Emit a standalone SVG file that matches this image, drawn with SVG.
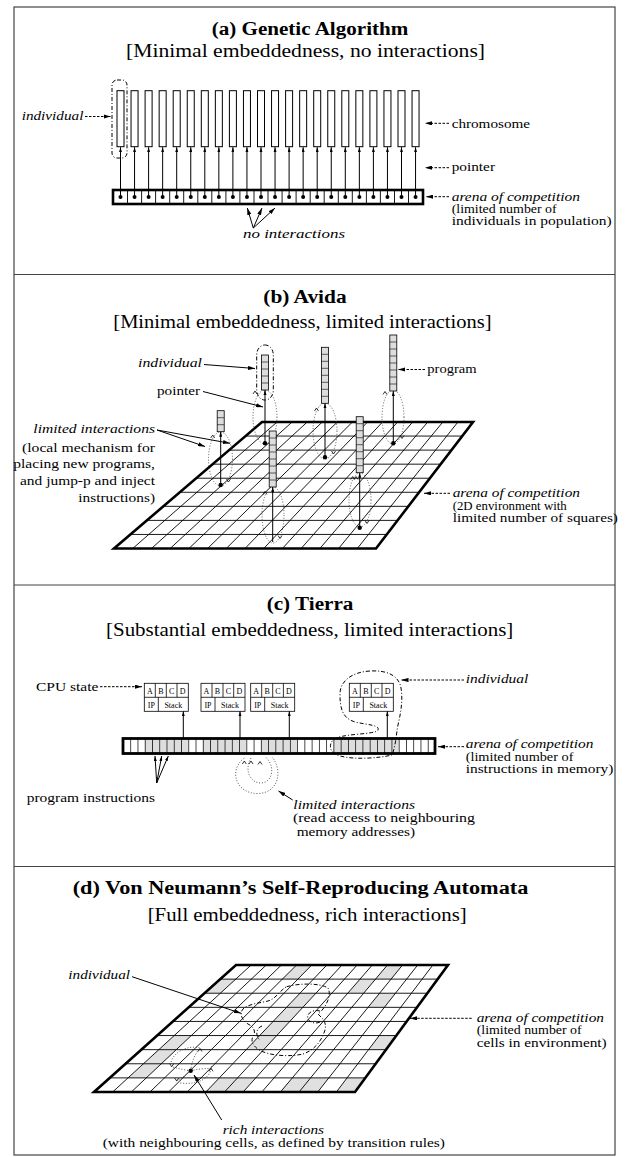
<svg xmlns="http://www.w3.org/2000/svg" width="625" height="1157" viewBox="0 0 625 1157" font-family="'Liberation Serif', 'Times New Roman', Times, 'DejaVu Serif', serif">
<defs>
<style>
text{font-family:'Liberation Serif','Times New Roman',Times,'Nimbus Roman','DejaVu Serif',serif}
.ti{font-weight:bold;font-size:18.5px}
.su{font-size:18.5px}
.lb{font-size:12.5px}
.it{font-style:italic}
.sm{font-size:8px}
.ln{stroke:#000;stroke-width:1;fill:none}
.dash{stroke:#000;stroke-width:1;fill:none;stroke-dasharray:2.5 1.5}
.dd{stroke:#000;stroke-width:1;fill:none;stroke-dasharray:4 2 1 2}
.dot{stroke:#444;stroke-width:0.9;fill:none;stroke-dasharray:1 1.8}
.grid{stroke:#000;stroke-width:0.9;fill:none}
.edge{stroke:#000;stroke-width:2.6;fill:none;stroke-linejoin:miter}
.chev{stroke:#000;stroke-width:0.8;fill:none}
</style>
<marker id="ah" viewBox="0 0 10 6" refX="10" refY="3" markerWidth="7" markerHeight="4.2" markerUnits="userSpaceOnUse" orient="auto"><path d="M0,0L10,3L0,6z" fill="#000"/></marker>
<marker id="ahs" viewBox="0 0 10 6" refX="10" refY="3" markerWidth="5" markerHeight="3.2" markerUnits="userSpaceOnUse" orient="auto"><path d="M0,0L10,3L0,6z" fill="#000"/></marker>
<g id="chr"><rect x="0" y="90.7" width="7" height="56" fill="#fff" stroke="#000" stroke-width="1"/><line x1="3.5" y1="197" x2="3.5" y2="147.2" stroke="#000" stroke-width="1" marker-end="url(#ahs)"/><circle cx="3.5" cy="197" r="2"/></g>
<g id="p8"><rect x="-3.5" y="0" width="7" height="56" fill="#ddd" stroke="#000" stroke-width=".8"/><path d="M-3.5,7h7M-3.5,14h7M-3.5,21h7M-3.5,28h7M-3.5,35h7M-3.5,42h7M-3.5,49h7" stroke="#000" stroke-width=".6"/></g>
<g id="p5"><rect x="-3.5" y="0" width="7" height="35" fill="#ddd" stroke="#000" stroke-width=".8"/><path d="M-3.5,7h7M-3.5,14h7M-3.5,21h7M-3.5,28h7" stroke="#000" stroke-width=".6"/></g>
<g id="p3"><rect x="-3.5" y="0" width="7" height="21" fill="#ddd" stroke="#000" stroke-width=".8"/><path d="M-3.5,7h7M-3.5,14h7" stroke="#000" stroke-width=".6"/></g>
<pattern id="mem" x="123" y="0" width="7.256" height="20" patternUnits="userSpaceOnUse"><line x1="0.4" y1="0" x2="0.4" y2="20" stroke="#000" stroke-width="0.8"/></pattern>
</defs>
<rect width="625" height="1157" fill="#fff"/>
<g id="frame" fill="none" stroke="#444" stroke-width="1.2">
<rect x="14" y="7" width="601" height="1148"/>
<line x1="14" y1="274.5" x2="615" y2="274.5"/>
<line x1="14" y1="585" x2="615" y2="585"/>
<line x1="14" y1="866.5" x2="615" y2="866.5"/>
</g>

<!-- ===== Panel (a) ===== -->
<g id="a-title">
<text class="ti" x="211.7" y="35" textLength="196.6" lengthAdjust="spacingAndGlyphs">(a) Genetic Algorithm</text>
<text class="su" x="126" y="57" textLength="359" lengthAdjust="spacingAndGlyphs">[Minimal embeddedness, no interactions]</text>
</g>
<g id="a-arena">
<rect x="113" y="190" width="310" height="14" fill="#fff" stroke="#000" stroke-width="2.6"/>
<path d="M127.5,190v14M141.6,190v14M155.6,190v14M169.7,190v14M183.7,190v14M197.8,190v14M211.8,190v14M225.9,190v14M239.9,190v14M254,190v14M268,190v14M282.1,190v14M296.1,190v14M310.2,190v14M324.2,190v14M338.3,190v14M352.3,190v14M366.4,190v14M380.4,190v14M394.5,190v14M408.5,190v14" stroke="#000" stroke-width="0.9"/>
</g>
<g id="a-chromosomes">
<use href="#chr" x="117"/><use href="#chr" x="131.05"/><use href="#chr" x="145.1"/><use href="#chr" x="159.15"/><use href="#chr" x="173.2"/><use href="#chr" x="187.25"/><use href="#chr" x="201.3"/><use href="#chr" x="215.35"/><use href="#chr" x="229.4"/><use href="#chr" x="243.45"/><use href="#chr" x="257.5"/><use href="#chr" x="271.55"/><use href="#chr" x="285.6"/><use href="#chr" x="299.65"/><use href="#chr" x="313.7"/><use href="#chr" x="327.75"/><use href="#chr" x="341.8"/><use href="#chr" x="355.85"/><use href="#chr" x="369.9"/><use href="#chr" x="383.95"/><use href="#chr" x="398"/><use href="#chr" x="412.05"/>
</g>
<g id="a-individual">
<rect x="112" y="80" width="15" height="78" rx="5" class="dd"/>
<text class="lb it" x="21.7" y="120" textLength="61.7" lengthAdjust="spacingAndGlyphs">individual</text>
</g>
<g id="a-labels">
<text class="lb" x="451.7" y="127.5" textLength="78.3" lengthAdjust="spacingAndGlyphs">chromosome</text>
<text class="lb" x="451.7" y="171" textLength="43.3" lengthAdjust="spacingAndGlyphs">pointer</text>
<text class="lb it" x="451.7" y="200.5" textLength="128.3" lengthAdjust="spacingAndGlyphs">arena of competition</text>
<text class="lb" x="451.7" y="212.8" textLength="105" lengthAdjust="spacingAndGlyphs">(limited number of</text>
<text class="lb" x="451.7" y="225.2" textLength="160" lengthAdjust="spacingAndGlyphs">individuals in population)</text>
<text class="lb it" x="243" y="238" textLength="102" lengthAdjust="spacingAndGlyphs">no interactions</text>
</g>
<g id="a-connectors">
<line x1="85" y1="116.5" x2="110.5" y2="116.5" class="dash" marker-end="url(#ah)"/>
<line x1="449" y1="123.3" x2="425" y2="123.3" class="dash" marker-end="url(#ah)"/>
<line x1="449" y1="167.7" x2="425" y2="167.7" class="dash" marker-end="url(#ah)"/>
<line x1="449" y1="196.7" x2="426" y2="196.7" class="dash" marker-end="url(#ah)"/>
<line x1="253.3" y1="228" x2="247.3" y2="208" class="ln" marker-end="url(#ah)"/>
<line x1="253.3" y1="228" x2="262" y2="208" class="ln" marker-end="url(#ah)"/>
<line x1="253.3" y1="228" x2="275" y2="208" class="ln" marker-end="url(#ah)"/>
</g>

<!-- ===== Panel (b) ===== -->
<g id="b-title">
<text class="ti" x="263.3" y="303" textLength="83.3" lengthAdjust="spacingAndGlyphs">(b) Avida</text>
<text class="su" x="113.3" y="327.7" textLength="378.3" lengthAdjust="spacingAndGlyphs">[Minimal embeddedness, limited interactions]</text>
</g>
<g id="b-arena">
<polygon points="262,422 473,422 376,548.5 114,548.5" fill="#fff"/>
<path class="grid" d="M245.56,436.06H462.22M229.11,450.11H451.44M212.67,464.17H440.67M196.22,478.22H429.89M179.78,492.28H419.11M163.33,506.33H408.33M146.89,520.39H397.56M130.44,534.44H386.78
M277.07,422L132.71,548.5M292.14,422L151.43,548.5M307.21,422L170.14,548.5M322.29,422L188.86,548.5M337.36,422L207.57,548.5M352.43,422L226.29,548.5M367.5,422L245,548.5M382.57,422L263.71,548.5M397.64,422L282.43,548.5M412.71,422L301.14,548.5M427.79,422L319.86,548.5M442.86,422L338.57,548.5M457.93,422L357.29,548.5"/>
<polygon points="262,422 473,422 376,548.5 114,548.5" class="edge"/>
</g>
<g id="b-loops">
<ellipse cx="265" cy="417" rx="12" ry="27" class="dot"/>
<ellipse cx="325" cy="431" rx="12" ry="28" class="dot"/>
<ellipse cx="393" cy="417" rx="11" ry="27" class="dot"/>
<ellipse cx="220.5" cy="459" rx="12" ry="27" class="dot"/>
<ellipse cx="273" cy="515" rx="11" ry="28" class="dot"/>
<ellipse cx="360" cy="500" rx="11" ry="27" class="dot"/>
<path class="chev" d="M253,394l2,-3l2,3M273,437l2,3l2,-3M314.5,411l2,-3l2,3M331.5,451l2,3l2,-3M383,394.5l2,-3l2,3M400,435.5l2,3l2,-3M210.7,438l2,-3l2,3M226.5,479l2,3l2,-3M263,494.5l2,-3l2,3M278,535.5l2,3l2,-3M350.7,479.5l2,-3l2,3M354,479.5l2,-3l2,3M365,520.5l2,3l2,-3"/>
</g>
<g id="b-programs">
<line x1="265" y1="443.3" x2="265" y2="390" class="ln" marker-end="url(#ahs)"/><circle cx="265" cy="443.3" r="2.2"/>
<line x1="325" y1="457.3" x2="325" y2="403.3" class="ln" marker-end="url(#ahs)"/><circle cx="325" cy="457.3" r="2.2"/>
<line x1="393.3" y1="443.3" x2="393.3" y2="391" class="ln" marker-end="url(#ahs)"/><circle cx="393.3" cy="443.3" r="2.2"/>
<line x1="220.7" y1="485" x2="220.7" y2="431.7" class="ln" marker-end="url(#ahs)"/><circle cx="220.7" cy="485" r="2.2"/>
<line x1="272.7" y1="542" x2="272.7" y2="487" class="ln" marker-end="url(#ahs)"/>
<line x1="359.7" y1="527.7" x2="359.7" y2="472.7" class="ln" marker-end="url(#ahs)"/><circle cx="359.7" cy="527.7" r="2.2"/>
<use href="#p5" x="265" y="355"/>
<use href="#p8" x="325" y="347.3"/>
<use href="#p8" x="393.3" y="335"/>
<use href="#p3" x="220.7" y="410.7"/>
<use href="#p8" x="272.7" y="431"/>
<use href="#p8" x="359.7" y="416.7"/>
</g>
<g id="b-individual">
<rect x="256.7" y="345" width="16.6" height="55" rx="8" ry="10" class="dd"/>
</g>
<g id="b-labels">
<text class="lb it" x="138" y="367.3" textLength="64" lengthAdjust="spacingAndGlyphs">individual</text>
<text class="lb" x="157" y="395" textLength="43" lengthAdjust="spacingAndGlyphs">pointer</text>
<text class="lb it" x="155" y="433" text-anchor="end" textLength="121.7" lengthAdjust="spacingAndGlyphs">limited interactions</text>
<text class="lb" x="155" y="451.7" text-anchor="end" textLength="133" lengthAdjust="spacingAndGlyphs">(local mechanism for</text>
<text class="lb" x="155" y="468.3" text-anchor="end" textLength="141.7" lengthAdjust="spacingAndGlyphs">placing new programs,</text>
<text class="lb" x="155" y="485" text-anchor="end" textLength="135" lengthAdjust="spacingAndGlyphs">and jump-p and inject</text>
<text class="lb" x="155" y="501.7" text-anchor="end" textLength="76.7" lengthAdjust="spacingAndGlyphs">instructions)</text>
<text class="lb" x="427.3" y="373" textLength="49.3" lengthAdjust="spacingAndGlyphs">program</text>
<text class="lb it" x="452.7" y="497.3" textLength="127.3" lengthAdjust="spacingAndGlyphs">arena of competition</text>
<text class="lb" x="452.7" y="509.7" textLength="114" lengthAdjust="spacingAndGlyphs">(2D environment with</text>
<text class="lb" x="452.7" y="522" textLength="165.3" lengthAdjust="spacingAndGlyphs">limited number of squares)</text>
</g>
<g id="b-connectors">
<line x1="204" y1="364.5" x2="255" y2="368.5" class="ln" marker-end="url(#ah)"/>
<line x1="203" y1="391.5" x2="263" y2="407" class="ln" marker-end="url(#ah)"/>
<line x1="157" y1="430" x2="205" y2="446.5" class="ln" marker-end="url(#ah)"/>
<line x1="157" y1="430" x2="230" y2="443.3" class="ln" marker-end="url(#ah)"/>
<line x1="425" y1="369.5" x2="398" y2="369.5" class="dash" marker-end="url(#ah)"/>
<line x1="450" y1="493.3" x2="424" y2="493.3" class="dash" marker-end="url(#ah)"/>
</g>

<!-- ===== Panel (c) ===== -->
<g id="c-title">
<text class="ti" x="266.7" y="610" textLength="86.7" lengthAdjust="spacingAndGlyphs">(c) Tierra</text>
<text class="su" x="106" y="635.7" textLength="407.3" lengthAdjust="spacingAndGlyphs">[Substantial embeddedness, limited interactions]</text>
</g>
<g id="c-memory">
<rect x="123" y="738.5" width="312" height="15" fill="#fff"/>
<g fill="#ddd">
<rect x="144.77" y="738.5" width="43.53" height="15"/>
<rect x="202.82" y="738.5" width="43.53" height="15"/>
<rect x="260.86" y="738.5" width="36.28" height="15"/>
<rect x="333.42" y="738.5" width="65.31" height="15"/>
</g>
<rect x="123" y="738.5" width="312" height="15" fill="url(#mem)"/>
<rect x="123" y="738.5" width="312" height="15" fill="none" stroke="#000" stroke-width="2.8"/>
</g>
<g id="c-cpu1" stroke="#000" stroke-width=".8">
<rect x="144.3" y="683.3" width="44" height="28" fill="#fff"/>
<path d="M144.3,697.3h44M155.3,683.3v14M166.3,683.3v14M177,683.3v14M158.3,697.3v14" fill="none"/>
<g stroke="none" text-anchor="middle"><text class="sm" x="149.8" y="694">A</text><text class="sm" x="160.8" y="694">B</text><text class="sm" x="171.6" y="694">C</text><text class="sm" x="182.6" y="694">D</text><text class="sm" x="151.3" y="708">IP</text><text class="sm" x="173.3" y="708">Stack</text></g>
</g>
<g id="c-cpu2" stroke="#000" stroke-width=".8">
<rect x="201" y="683.3" width="44" height="28" fill="#fff"/>
<path d="M201,697.3h44M212,683.3v14M223,683.3v14M233.7,683.3v14M215,697.3v14" fill="none"/>
<g stroke="none" text-anchor="middle"><text class="sm" x="206.5" y="694">A</text><text class="sm" x="217.5" y="694">B</text><text class="sm" x="228.3" y="694">C</text><text class="sm" x="239.3" y="694">D</text><text class="sm" x="208" y="708">IP</text><text class="sm" x="230" y="708">Stack</text></g>
</g>
<g id="c-cpu3" stroke="#000" stroke-width=".8">
<rect x="250.7" y="683.3" width="44" height="28" fill="#fff"/>
<path d="M250.7,697.3h44M261.7,683.3v14M272.7,683.3v14M283.4,683.3v14M264.7,697.3v14" fill="none"/>
<g stroke="none" text-anchor="middle"><text class="sm" x="256.2" y="694">A</text><text class="sm" x="267.2" y="694">B</text><text class="sm" x="278" y="694">C</text><text class="sm" x="289" y="694">D</text><text class="sm" x="257.7" y="708">IP</text><text class="sm" x="279.7" y="708">Stack</text></g>
</g>
<g id="c-cpu4" stroke="#000" stroke-width=".8">
<rect x="349.3" y="683.3" width="44" height="28" fill="#fff"/>
<path d="M349.3,697.3h44M360.3,683.3v14M371.3,683.3v14M382,683.3v14M363.3,697.3v14" fill="none"/>
<g stroke="none" text-anchor="middle"><text class="sm" x="354.8" y="694">A</text><text class="sm" x="365.8" y="694">B</text><text class="sm" x="376.6" y="694">C</text><text class="sm" x="387.6" y="694">D</text><text class="sm" x="356.3" y="708">IP</text><text class="sm" x="378.3" y="708">Stack</text></g>
</g>
<g id="c-individual">
<path class="dd" d="M370,671 C352,672 340,681 340,694 C340,708 342,718 355,722 C368,725 380,725 378,730 C376,735 340,733 333,740 C328,746 330,753 340,756 C355,760 380,758 392,755 C396,745 396,735 398,725 C401,712 403,700 401,688 C399,676 388,670 370,671 Z"/>
</g>
<g id="c-loops">
<path class="dot" d="M244.3,758 C228,770 236,794 258,793.5 C279,793 283,770 272,757"/>
<path class="dot" d="M251,758 C244,770 250,783 261,783 C272,783 276,767 266,757.5"/>
<path class="chev" d="M242.3,764l2,-3l2,3M249,764l2,-3l2,3M258,764.5l2,-3l2,3"/>
</g>
<g id="c-labels">
<text class="lb" x="36" y="690.7" textLength="62.3" lengthAdjust="spacingAndGlyphs">CPU state</text>
<text class="lb" x="26.7" y="801.7" textLength="128.3" lengthAdjust="spacingAndGlyphs">program instructions</text>
<text class="lb it" x="293.3" y="809" textLength="121.7" lengthAdjust="spacingAndGlyphs">limited interactions</text>
<text class="lb" x="293" y="822" textLength="182" lengthAdjust="spacingAndGlyphs">(read access to neighbouring</text>
<text class="lb" x="296.7" y="835.5" textLength="118.3" lengthAdjust="spacingAndGlyphs">memory addresses)</text>
<text class="lb it" x="465.7" y="683.3" textLength="62.7" lengthAdjust="spacingAndGlyphs">individual</text>
<text class="lb it" x="465.7" y="748.3" textLength="127.7" lengthAdjust="spacingAndGlyphs">arena of competition</text>
<text class="lb" x="465.7" y="760.7" textLength="107.7" lengthAdjust="spacingAndGlyphs">(limited number of</text>
<text class="lb" x="465.7" y="773.3" textLength="147.7" lengthAdjust="spacingAndGlyphs">instructions in memory)</text>
</g>
<g id="c-connectors">
<line x1="100" y1="686.7" x2="142" y2="686.7" class="dash" marker-end="url(#ah)"/>
<line x1="183.3" y1="738" x2="183.3" y2="711.3" class="ln" marker-end="url(#ahs)"/>
<line x1="240" y1="738" x2="240" y2="711.3" class="ln" marker-end="url(#ahs)"/>
<line x1="289.3" y1="738" x2="289.3" y2="711.3" class="ln" marker-end="url(#ahs)"/>
<line x1="387.3" y1="738" x2="387.3" y2="711.3" class="ln" marker-end="url(#ahs)"/>
<line x1="156.7" y1="783" x2="155" y2="756" class="ln" marker-end="url(#ahs)"/>
<line x1="156.7" y1="783" x2="161.7" y2="756" class="ln" marker-end="url(#ahs)"/>
<line x1="156.7" y1="783" x2="168.3" y2="756" class="ln" marker-end="url(#ahs)"/>
<line x1="292.7" y1="800" x2="278.5" y2="791" class="ln" marker-end="url(#ah)"/>
<line x1="464" y1="680" x2="401.5" y2="680" class="dash" marker-end="url(#ah)"/>
<line x1="464" y1="746.7" x2="438" y2="746.7" class="dash" marker-end="url(#ah)"/>
</g>

<!-- ===== Panel (d) ===== -->
<g id="d-title">
<text class="ti" x="72.7" y="894.3" textLength="455.7" lengthAdjust="spacingAndGlyphs">(d) Von Neumann’s Self-Reproducing Automata</text>
<text class="su" x="147.7" y="920.7" textLength="319" lengthAdjust="spacingAndGlyphs">[Full embeddedness, rich interactions]</text>
</g>
<g id="d-arena">
<polygon points="236,965 448,965 355,1092 94,1092" fill="#fff"/>
<g fill="#e0e0e0">
<polygon points="296.6,965 311.7,965 297.9,979.1 282.4,979.1"/>
<polygon points="387.4,965 402.6,965 391.1,979.1 375.5,979.1"/>
<polygon points="220.2,979.1 235.8,979.1 220.4,993.2 204.4,993.2"/>
<polygon points="360,979.1 375.5,979.1 363.7,993.2 347.7,993.2"/>
<polygon points="379.6,993.2 395.5,993.2 384.4,1007.3 368.1,1007.3"/>
<polygon points="300,993.2 315.9,993.2 302.8,1007.3 286.5,1007.3"/>
<polygon points="286.5,1007.3 302.8,1007.3 289.8,1021.4 273.1,1021.4"/>
<polygon points="273.1,1021.4 289.8,1021.4 276.7,1035.6 259.6,1035.6"/>
<polygon points="259.6,1035.6 276.7,1035.6 263.7,1049.7 246.2,1049.7"/>
<polygon points="379.2,1035.6 396.3,1035.6 386,1049.7 368.5,1049.7"/>
<polygon points="174.2,1035.6 191.3,1035.6 176.3,1049.7 158.8,1049.7"/>
<polygon points="158.8,1049.7 176.3,1049.7 161.3,1063.8 143.4,1063.8"/>
<polygon points="143.4,1063.8 161.3,1063.8 146.3,1077.9 128,1077.9"/>
<polygon points="219.3,1077.9 255.8,1077.9 243.1,1092 205.9,1092"/>
<polygon points="292.3,1077.9 328.8,1077.9 317.7,1092 280.4,1092"/>
<polygon points="347.1,1077.9 365.3,1077.9 355,1092 336.4,1092"/>
</g>
<path class="grid" d="M220.22,979.11H437.67M204.44,993.22H427.33M188.67,1007.33H417M172.89,1021.44H406.67M157.11,1035.56H396.33M141.33,1049.67H386M125.56,1063.78H375.67M109.78,1077.89H365.33
M251.14,965L112.64,1092M266.29,965L131.29,1092M281.43,965L149.93,1092M296.57,965L168.57,1092M311.71,965L187.21,1092M326.86,965L205.86,1092M342,965L224.5,1092M357.14,965L243.14,1092M372.29,965L261.79,1092M387.43,965L280.43,1092M402.57,965L299.07,1092M417.71,965L317.71,1092M432.86,965L336.36,1092"/>
<polygon points="236,965 448,965 355,1092 94,1092" class="edge"/>
</g>
<g id="d-individual">
<path class="dd" d="M286.7,986.7 C300,983 320,983 328,988 C332,995 326,1008 318,1014 C322,1018 327,1022 325,1030 C322,1040 315,1050 303,1054 C290,1057 270,1056 259,1050 C252,1045 250,1040 254,1035 C256,1030 252,1026 248,1024 C242,1020 239,1014 243,1009 C248,1004 260,1003 268,1001 C276,999 280,990 286.7,986.7 Z"/>
<path class="dd" d="M320,1011 C312,1009 306,1014 308,1019 C310,1023 316,1024 320,1022"/>
<path class="dd" d="M262,1026 C256,1028 255,1036 260,1040"/>
</g>
<g id="d-rich">
<path class="dot" d="M190.7,1070.7 C192,1060 196,1052 200,1048.5 M190.7,1070.7 C184,1070 176,1068 171.7,1066.7 M190.7,1070.7 C186,1075 180,1079 176.7,1081 M190.7,1070.7 C198,1069 205,1068.5 211,1068.3 M171,1062 C175,1050 190,1045 200,1048 M212,1066 C210,1078 200,1085 180,1083"/>
<path class="chev" d="M198,1051.5l2,-3l2,3M169.7,1063.7l2,3l2,-3M174.7,1078l2,3l2,-3M209,1071.3l2,-3l2,3"/>
<circle cx="190.7" cy="1070.7" r="2.2"/>
</g>
<g id="d-labels">
<text class="lb it" x="68.3" y="979" textLength="61.7" lengthAdjust="spacingAndGlyphs">individual</text>
<text class="lb it" x="476.7" y="1021.7" textLength="127.3" lengthAdjust="spacingAndGlyphs">arena of competition</text>
<text class="lb" x="476.7" y="1034" textLength="105" lengthAdjust="spacingAndGlyphs">(limited number of</text>
<text class="lb" x="476.7" y="1046.7" textLength="130" lengthAdjust="spacingAndGlyphs">cells in environment)</text>
<text class="lb it" x="222.7" y="1134.3" textLength="101.3" lengthAdjust="spacingAndGlyphs">rich interactions</text>
<text class="lb" x="102.7" y="1146.7" textLength="342.3" lengthAdjust="spacingAndGlyphs">(with neighbouring cells, as defined by transition rules)</text>
</g>
<g id="d-connectors">
<line x1="132" y1="976.7" x2="241" y2="1013.3" class="ln" marker-end="url(#ah)"/>
<line x1="471.7" y1="1018.3" x2="410" y2="1018.3" class="dash" marker-end="url(#ah)"/>
<line x1="221.7" y1="1120" x2="194" y2="1075" class="ln" marker-end="url(#ah)"/>
</g>
</svg>
